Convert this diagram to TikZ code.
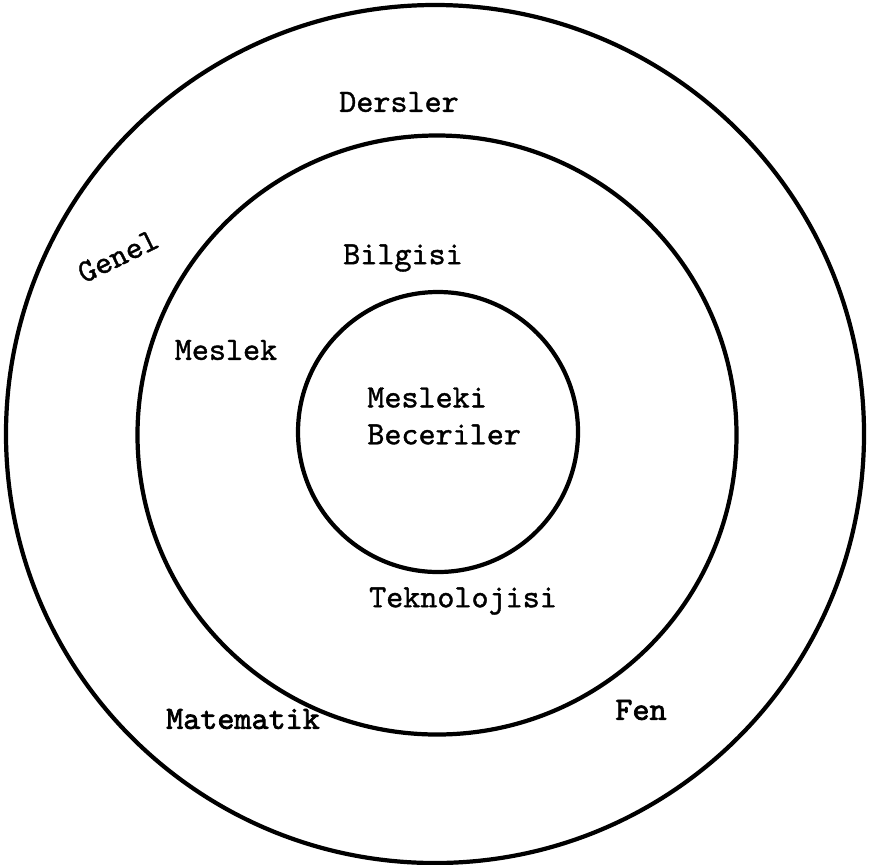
\documentclass[tikz,border=0pt]{standalone}
\usepackage{fontspec}
\usepackage{tikz}
\usetikzlibrary{positioning}
\setmonofont{lmmono10-regular.otf}
\newfontfamily\inktt[FakeBold=1.2]{lmmono10-regular.otf}
\newfontfamily\heavytt[FakeBold=2.2]{lmmono10-regular.otf}

\tikzset{
  ring/.style={draw, circle, line width=2.4pt, inner sep=0pt},
  lbl/.style={font=\fontsize{18.5}{21}\selectfont\inktt, inner sep=0pt},
  heavylbl/.style={font=\fontsize{18.5}{21}\selectfont\heavytt, inner sep=0pt}
}

\begin{document}
\begin{tikzpicture}[x=0.2mm, y=-0.2mm]
  \useasboundingbox (0,0) rectangle (869,864);
  % rings, outside in
  \node[ring, minimum size=171.6mm] (genel) at (435,434) {};
  \node[ring, minimum size=119.8mm] (meslek) at (437,435) {};
  \node[ring, minimum size=56mm] (beceri) at (438,432) {};
  % outer ring
  \node[lbl] (dersler) at (399,102) {Dersler};
  \node[lbl, rotate=26] (gen) at (118,256) {Genel};
  \node[heavylbl] (mat) at (243,719) {Matematik};
  \node[heavylbl] (fen) at (641,710) {Fen};
  % middle ring
  \node[lbl] (bilgi) at (403,258) {Bilgisi};
  \node[lbl] (mes) at (226,350) {Meslek};
  \node[lbl] (tekno) at (463,601) {Teknolojisi};
  % inner ring
  \node[lbl, align=left, anchor=west] (mb) at (367,416) {Mesleki\\Beceriler};
\end{tikzpicture}
\end{document}
